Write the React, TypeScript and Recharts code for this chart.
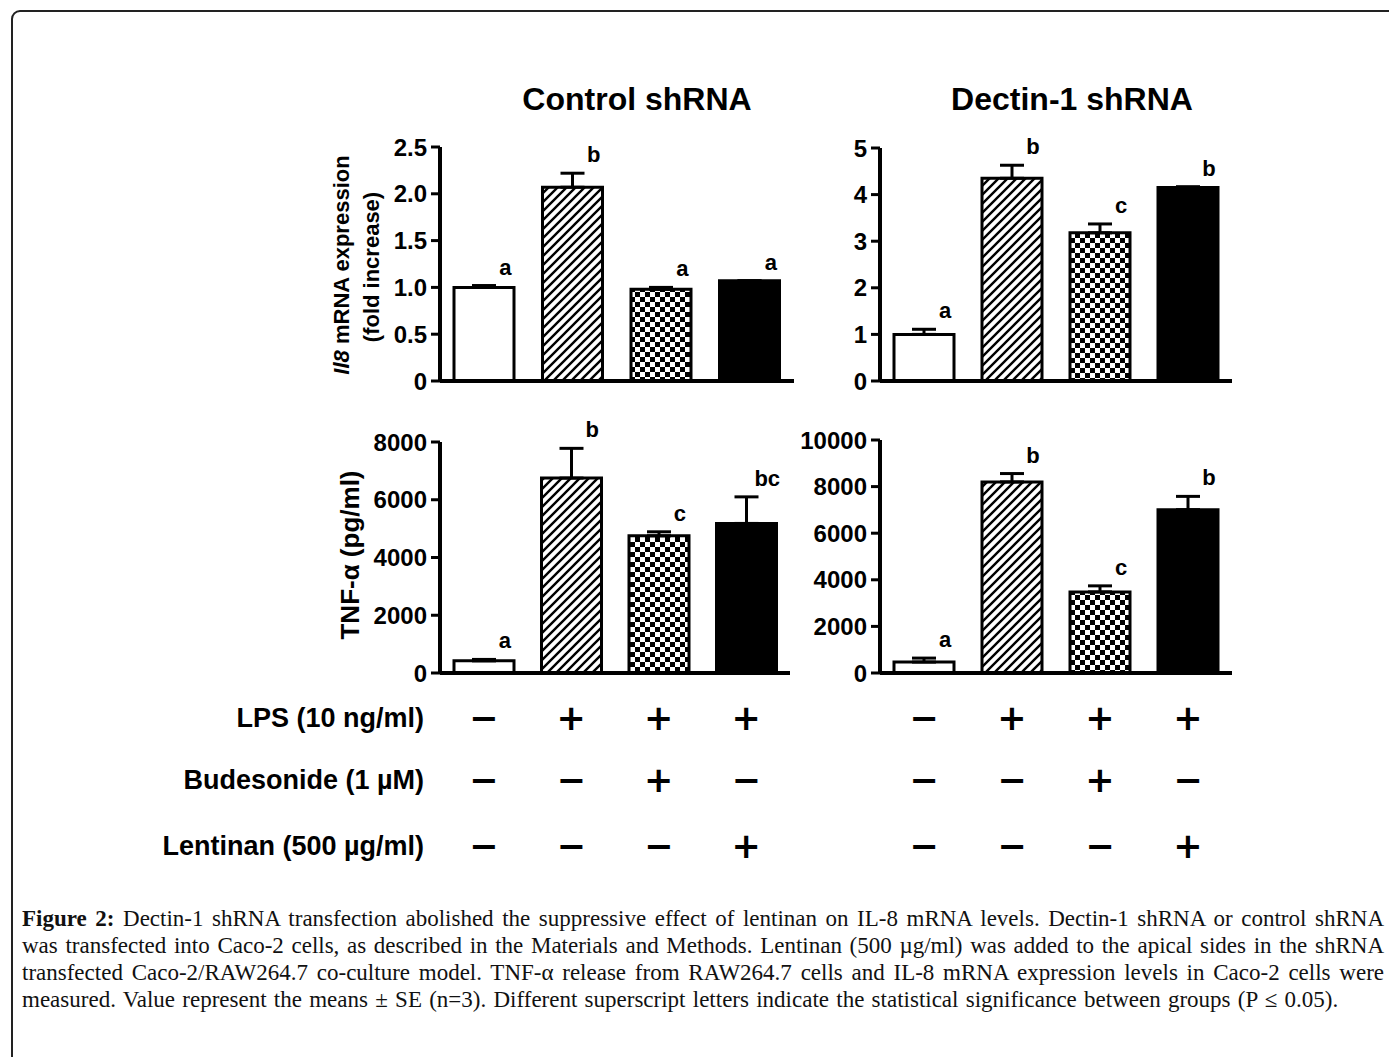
import React from 'react';
import { ComposedChart, Bar, Line, XAxis, YAxis, ErrorBar, Cell, LabelList } from 'recharts';

const FONT = '"Liberation Sans", Arial, Helvetica, sans-serif';
const SIGN_FONT = '"DejaVu Sans", sans-serif';

// ---- categories & table ----
const categories = ['Vehicle', 'LPS', 'LPS + Budesonide', 'LPS + Lentinan'];
const barFills = ['#ffffff', 'url(#hatch)', 'url(#checker)', '#000000'];

const rowLabels = ['LPS (10 ng/ml)', 'Budesonide (1 \u00b5M)', 'Lentinan (500 \u00b5g/ml)'];
const lpsSigns = ['\u2212', '+', '+', '+'];
const budesonideSigns = ['\u2212', '\u2212', '+', '\u2212'];
const lentinanSigns = ['\u2212', '\u2212', '\u2212', '+'];
const signRows = [lpsSigns, budesonideSigns, lentinanSigns];

// ---- Control shRNA, Il8 ----
const ctrlIl8 = [1.0, 2.07, 0.98, 1.07];
const ctrlIl8Err = [0.02, 0.15, 0.02, 0.0];
const ctrlIl8Letters = ['a', 'b', 'a', 'a'];
const ctrlIl8Ticks = [0, 0.5, 1, 1.5, 2, 2.5];
const ctrlIl8TickLabels = ['0', '0.5', '1.0', '1.5', '2.0', '2.5'];

// ---- Dectin-1 shRNA, Il8 ----
const dectIl8 = [1.0, 4.35, 3.18, 4.15];
const dectIl8Err = [0.11, 0.28, 0.19, 0.02];
const dectIl8Letters = ['a', 'b', 'c', 'b'];
const dectIl8Ticks = [0, 1, 2, 3, 4, 5];
const dectIl8TickLabels = ['0', '1', '2', '3', '4', '5'];

// ---- Control shRNA, TNF-a ----
const ctrlTnf = [420, 6750, 4750, 5180];
const ctrlTnfErr = [50, 1030, 140, 920];
const ctrlTnfLetters = ['a', 'b', 'c', 'bc'];
const ctrlTnfTicks = [0, 2000, 4000, 6000, 8000];
const ctrlTnfTickLabels = ['0', '2000', '4000', '6000', '8000'];

// ---- Dectin-1 shRNA, TNF-a ----
const dectTnf = [470, 8200, 3480, 7010];
const dectTnfErr = [170, 360, 260, 570];
const dectTnfLetters = ['a', 'b', 'c', 'b'];
const dectTnfTicks = [0, 2000, 4000, 6000, 8000, 10000];
const dectTnfTickLabels = ['0', '2000', '4000', '6000', '8000', '10000'];

const captionLines = [
  'Dectin-1 shRNA transfection abolished the suppressive effect of lentinan on IL-8 mRNA levels. Dectin-1 shRNA or control shRNA',
  'was transfected into Caco-2 cells, as described in the Materials and Methods. Lentinan (500 \u00b5g/ml) was added to the apical sides in the shRNA',
  'transfected Caco-2/RAW264.7 co-culture model. TNF-\u03b1 release from RAW264.7 cells and IL-8 mRNA expression levels in Caco-2 cells were',
  'measured. Value represent the means \u00b1 SE (n=3). Different superscript letters indicate the statistical significance between groups (P \u2264 0.05).',
];

function buildRows(values: number[], errs: number[], letters: string[]) {
  return categories.map((c, i) => ({
    group: c,
    value: values[i],
    err: [0, errs[i]],
    top: values[i] + errs[i],
    letter: letters[i],
  }));
}

const LetterLabel = (props: any) => {
  const { x, y, value } = props;
  if (x == null || y == null) return null;
  return (
    <text x={x + 21} y={y - 11} textAnchor="middle" fontFamily={FONT} fontWeight={700} fontSize={22} fill="#000">
      {value}
    </text>
  );
};

const SIGN_OFFSETS = [57, 119, 185];

const SignTick = (props: any) => {
  const { x, y, index } = props;
  return (
    <g>
      {signRows.map((row, r) => (
        <text key={r} x={x} y={y + SIGN_OFFSETS[r]} textAnchor="middle" fontFamily={SIGN_FONT} fontWeight={700} fontSize={35} fill="#000">
          {row[index]}
        </text>
      ))}
    </g>
  );
};

type PanelProps = {
  left: number; top: number; plotWidth: number; plotHeight: number;
  rows: any[]; ticks: number[]; tickLabels: string[]; domainMax: number; table?: boolean;
};

function Panel({ left, top, plotWidth, plotHeight, rows, ticks, tickLabels, domainMax, table }: PanelProps) {
  const yW = 100;
  const mTop = 30;
  const mRight = 10;
  const xH = table ? 200 : 24;
  return (
    <div style={{ position: 'absolute', left: left - yW, top: top - mTop }}>
      <ComposedChart
        width={yW + plotWidth + mRight}
        height={mTop + plotHeight + xH}
        data={rows}
        margin={{ top: mTop, right: mRight, bottom: 0, left: 0 }}
        barSize={60}
      >
        <XAxis
          dataKey="group"
          axisLine={{ stroke: '#000', strokeWidth: 4 }}
          tickLine={false}
          tickSize={0}
          tickMargin={0}
          height={xH}
          interval={0}
          tick={table ? (p: any) => <SignTick {...p} /> : false}
        />
        <YAxis
          type="number"
          domain={[0, domainMax]}
          ticks={ticks}
          interval={0}
          tickFormatter={(v: number) => tickLabels[ticks.indexOf(v)]}
          width={yW}
          axisLine={{ stroke: '#000', strokeWidth: 4 }}
          tickLine={{ stroke: '#000', strokeWidth: 3 }}
          tickSize={9}
          tickMargin={4}
          tick={{ fill: '#000', fontSize: 24, fontWeight: 700, fontFamily: FONT }}
        />
        <Bar dataKey="value" stroke="#000" strokeWidth={3} isAnimationActive={false}>
          {rows.map((_, i) => (
            <Cell key={i} fill={barFills[i]} />
          ))}
          <ErrorBar dataKey="err" width={12} stroke="#000" strokeWidth={3} direction="y" />
        </Bar>
        <Line dataKey="top" stroke="none" dot={false} activeDot={false} isAnimationActive={false} legendType="none">
          <LabelList dataKey="letter" content={LetterLabel} />
        </Line>
      </ComposedChart>
    </div>
  );
}

export default function App() {
  return (
    <div style={{ position: 'absolute', left: 0, top: 0, width: 1389, height: 1057, overflow: 'hidden', background: '#fff' }}>
      <div style={{ position: 'absolute', left: 11, top: 10, width: 1450, height: 1150, border: '2px solid #222', borderRadius: 9, boxSizing: 'border-box' }} />

      <svg width={1389} height={1057} style={{ position: 'absolute', left: 0, top: 0 }}>
        <defs>
          <pattern id="hatch" patternUnits="userSpaceOnUse" width={9} height={9}>
            <rect width={9} height={9} fill="#fff" />
            <path d="M-2,2 l4,-4 M0,9 l9,-9 M7,11 l4,-4" stroke="#000" strokeWidth={2.4} />
          </pattern>
          <pattern id="checker" patternUnits="userSpaceOnUse" width={10} height={10}>
            <rect width={10} height={10} fill="#fff" />
            <rect x={0} y={0} width={5} height={5} fill="#000" />
            <rect x={5} y={5} width={5} height={5} fill="#000" />
          </pattern>
        </defs>
        <text x={637} y={110} textAnchor="middle" fontFamily={FONT} fontWeight={700} fontSize={32} fill="#000">Control shRNA</text>
        <text x={1072} y={110} textAnchor="middle" fontFamily={FONT} fontWeight={700} fontSize={32} fill="#000">Dectin-1 shRNA</text>

        <text transform="translate(349,265) rotate(-90)" textAnchor="middle" fontFamily={FONT} fontWeight={700} fontSize={22} fill="#000">
          <tspan fontStyle="italic">Il8</tspan> mRNA expression
        </text>
        <text transform="translate(379,267) rotate(-90)" textAnchor="middle" fontFamily={FONT} fontWeight={700} fontSize={22} fill="#000">
          (fold increase)
        </text>
        <text transform="translate(359,555) rotate(-90)" textAnchor="middle" fontFamily={FONT} fontWeight={700} fontSize={26} fill="#000">
          {'TNF-\u03b1 (pg/ml)'}
        </text>

        {rowLabels.map((l, i) => (
          <text key={l} x={424} y={[727, 789, 855][i]} textAnchor="end" fontFamily={FONT} fontWeight={700} fontSize={27} fill="#000">
            {l}
          </text>
        ))}
      </svg>

      <Panel left={440} top={147} plotWidth={354} plotHeight={234} rows={buildRows(ctrlIl8, ctrlIl8Err, ctrlIl8Letters)} ticks={ctrlIl8Ticks} tickLabels={ctrlIl8TickLabels} domainMax={2.5} />
      <Panel left={880} top={148} plotWidth={352} plotHeight={233} rows={buildRows(dectIl8, dectIl8Err, dectIl8Letters)} ticks={dectIl8Ticks} tickLabels={dectIl8TickLabels} domainMax={5} />
      <Panel left={440} top={442} plotWidth={350} plotHeight={231} rows={buildRows(ctrlTnf, ctrlTnfErr, ctrlTnfLetters)} ticks={ctrlTnfTicks} tickLabels={ctrlTnfTickLabels} domainMax={8000} table />
      <Panel left={880} top={440} plotWidth={352} plotHeight={233} rows={buildRows(dectTnf, dectTnfErr, dectTnfLetters)} ticks={dectTnfTicks} tickLabels={dectTnfTickLabels} domainMax={10000} table />

      <div style={{ position: 'absolute', left: 22, top: 905, width: 1362, fontFamily: '"Liberation Serif", "Times New Roman", serif', fontSize: 23, lineHeight: '27px', color: '#111' }}>
        {captionLines.map((line, i) => (
          <div key={i} style={{ whiteSpace: 'nowrap', textAlign: i < 3 ? 'justify' : 'left', textAlignLast: i < 3 ? 'justify' : 'left', wordSpacing: i < 3 ? 0 : 1.5 }}>
            {i === 0 ? <b>Figure 2: </b> : null}
            {line}
          </div>
        ))}
      </div>
    </div>
  );
}
